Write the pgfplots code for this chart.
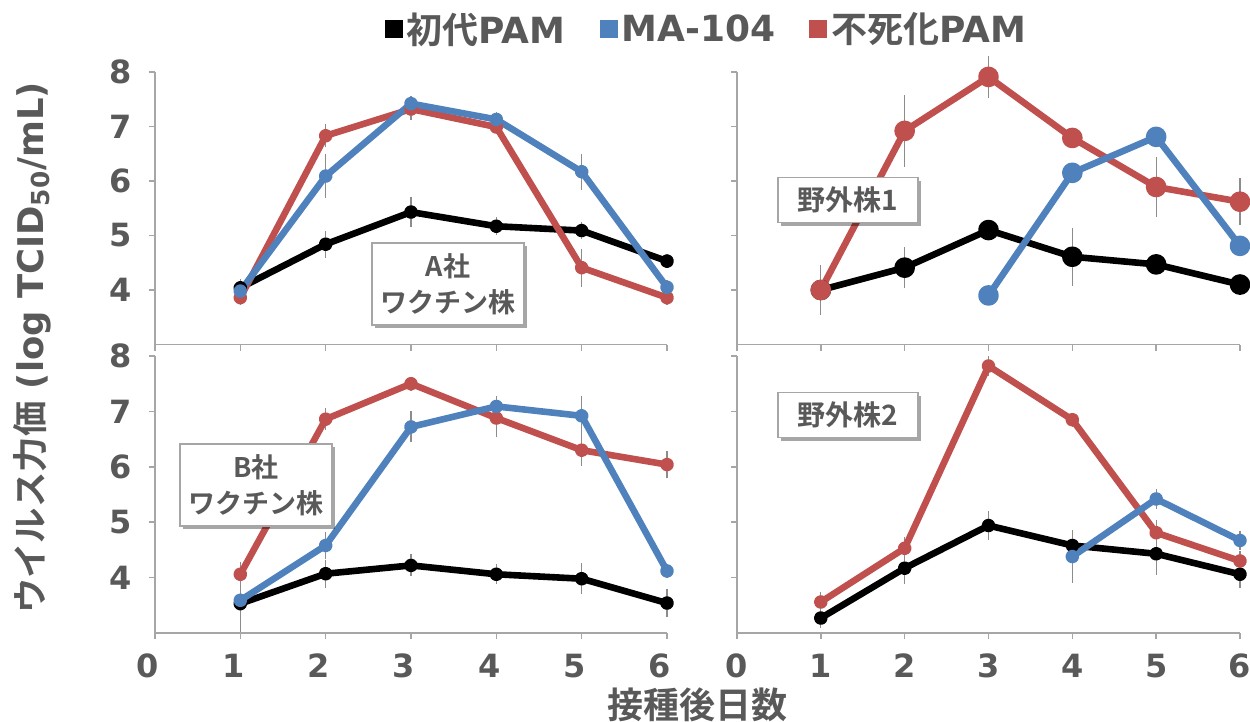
\documentclass[border=0pt]{standalone}
\usepackage{pgfplots}
\pgfplotsset{compat=1.18}
\usepackage{pgfplotstable}
\usepackage{fontspec}
\usetikzlibrary{shadows}
\setmainfont{DejaVu Sans}
\newfontfamily\jp{Noto Sans CJK JP}[BoldFont={Noto Sans CJK JP Bold}]

\definecolor{txt}{HTML}{595959}
\definecolor{axg}{HTML}{A6A6A6}
\definecolor{errg}{HTML}{8C8C8C}
\definecolor{sblue}{HTML}{4F81BD}
\definecolor{sred}{HTML}{C0504D}

% columns: day, primary PAM (mean, sd), MA-104 (mean, sd), immortalised PAM (mean, sd)
\pgfplotstableread{
x blk blke blu blue red rede
1 4.04 0.08 3.98 0.05 3.86 0.05
2 4.84 0.17 6.09 0.32 6.83 0.13
3 5.43 0.20 7.42 0.05 7.32 0.12
4 5.17 0.08 7.13 0.05 6.99 0.05
5 5.09 0.08 6.17 0.25 4.41 0.27
6 4.53 0.05 4.05 0.05 3.86 0.05
}\tabA
\pgfplotstableread{
x blk blke blu blue red rede
1 4.00 0.10 nan nan 4.00 0.38
2 4.41 0.30 nan nan 6.92 0.58
3 5.10 0.10 3.90 0.05 7.91 0.30
4 4.61 0.45 6.15 0.10 6.79 0.10
5 4.47 0.10 6.81 0.10 5.89 0.47
6 4.10 0.12 4.81 0.10 5.62 0.35
}\tabB
\pgfplotstableread{
x blk blke blu blue red rede
1 3.53 0.43 3.59 0.10 4.06 0.15
2 4.07 0.17 4.58 0.17 6.86 0.12
3 4.22 0.12 6.72 0.20 7.50 0.05
4 4.06 0.10 7.09 0.10 6.88 0.27
5 3.98 0.20 6.92 0.27 6.30 0.20
6 3.54 0.18 4.12 0.05 6.04 0.17
}\tabC
\pgfplotstableread{
x blk blke blu blue red rede
1 3.27 0.10 nan nan 3.56 0.10
2 4.17 0.20 nan nan 4.53 0.12
3 4.94 0.18 nan nan 7.82 0.10
4 4.58 0.10 4.38 0.40 6.85 0.05
5 4.43 0.30 5.42 0.10 4.81 0.15
6 4.06 0.17 4.67 0.10 4.30 0.10
}\tabD

\pgfplotsset{
  panel/.style={
    scale only axis, xmin=0, xmax=6, ymin=3, ymax=8,
    xtick={0,...,6}, ytick={4,...,8},
    axis x line=bottom, axis y line=left,
    axis line style={-, draw=axg, line width=0.8pt},
    tick style={draw=axg, line width=0.8pt},
    tick align=outside, major tick length=3pt, clip=false,
    ticklabel style={font=\fontsize{16}{18}\selectfont\bfseries, text=txt},
    /pgf/number format/assume math mode=true,
    yticklabel style={anchor=center, xshift=-14pt},
    xticklabel style={anchor=center, yshift=-13.5pt},
  },
  errs/.style={draw=none, mark=none, forget plot,
    error bars/.cd, y dir=both, y explicit,
    error bar style={draw=errg, line width=0.6pt},
    error mark options={draw=errg, line width=0.6pt, mark size=2.2pt}},
  ser/.style={line width=3.3pt, line join=round, mark=*, forget plot},
}

% error bars first, then the line with its markers
\newcommand\series[5]{%
  \addplot[errs] table[x=x, y=#2, y error=#3]{#1};
  \addplot[ser, color=#4, mark size=#5] table[x=x, y=#2]{#1};
}

\tikzset{
  box/.style={draw=axg, fill=white, line width=0.6pt, text=txt, align=center,
    inner sep=4pt,
    drop shadow={shadow xshift=1.6pt, shadow yshift=-1.6pt, fill=black, opacity=0.35}},
}

\begin{document}
\begin{tikzpicture}
\path[use as bounding box] (0,0) rectangle (625pt,-361pt);

% top left: vaccine strain A
\begin{axis}[panel, at={(77.5pt,-172.25pt)}, anchor=south west,
  width=256pt, height=136.25pt, xticklabel=\empty,
  legend columns=3,
  legend image code/.code={\fill (0pt,-4.5pt) rectangle (9pt,4.5pt);},
  legend style={at={(1.079,1.157)}, anchor=center, draw=none, fill=none,
    font=\fontsize{18}{21}\selectfont\bfseries, text=txt,
    /tikz/every even column/.append style={column sep=15pt}}]
\addlegendimage{fill=black, draw=none}
\addlegendentry{{\jp 初代}PAM}
\addlegendimage{fill=sblue, draw=none}
\addlegendentry{MA-104}
\addlegendimage{fill=sred, draw=none}
\addlegendentry{{\jp 不死化}PAM}
\series{\tabA}{blk}{blke}{black}{1.8pt}
\series{\tabA}{red}{rede}{sred}{1.8pt}
\series{\tabA}{blu}{blue}{sblue}{1.8pt}
\end{axis}

% top right: field strain 1
\begin{axis}[panel, at={(368.5pt,-172.25pt)}, anchor=south west,
  width=251.5pt, height=136.25pt, xticklabel=\empty, yticklabel=\empty]
\series{\tabB}{blk}{blke}{black}{3.5pt}
\series{\tabB}{red}{rede}{sred}{3.5pt}
\series{\tabB}{blu}{blue}{sblue}{3.5pt}
\end{axis}

% bottom left: vaccine strain B
\begin{axis}[panel, at={(77.5pt,-316.5pt)}, anchor=south west,
  width=256pt, height=138.5pt,
  xticklabel style={xshift=-3.5pt}]
\series{\tabC}{blk}{blke}{black}{1.8pt}
\series{\tabC}{red}{rede}{sred}{1.8pt}
\series{\tabC}{blu}{blue}{sblue}{1.8pt}
\end{axis}

% bottom right: field strain 2
\begin{axis}[panel, at={(368.5pt,-316.5pt)}, anchor=south west,
  width=251.5pt, height=138.5pt, yticklabel=\empty]
\series{\tabD}{blk}{blke}{black}{1.8pt}
\series{\tabD}{red}{rede}{sred}{1.8pt}
\series{\tabD}{blu}{blue}{sblue}{1.8pt}
\end{axis}

% strain labels
\node[box, font=\fontsize{13.5}{18}\selectfont\jp\bfseries, minimum width=76pt, minimum height=41pt]
  at (224pt,-142pt) {A社\\ワクチン株};
\node[box, font=\fontsize{14}{18}\selectfont\jp\bfseries, minimum width=70pt, minimum height=22.5pt]
  at (424pt,-100pt) {野外株1};
\node[box, font=\fontsize{13.5}{18}\selectfont\jp\bfseries, minimum width=76pt, minimum height=41pt]
  at (128pt,-242.5pt) {B社\\ワクチン株};
\node[box, font=\fontsize{14}{18}\selectfont\jp\bfseries, minimum width=70pt, minimum height=22.5pt]
  at (424pt,-207.5pt) {野外株2};

% axis titles
\node[rotate=90, text=txt, font=\fontsize{17.7}{20}\selectfont\bfseries]
  at (16pt,-174pt) {{\jp ウイルス力価} (log TCID\textsubscript{50}/mL)};
\node[text=txt, font=\fontsize{18}{22}\selectfont\jp\bfseries]
  at (348.5pt,-352.5pt) {接種後日数};
\end{tikzpicture}
\end{document}
